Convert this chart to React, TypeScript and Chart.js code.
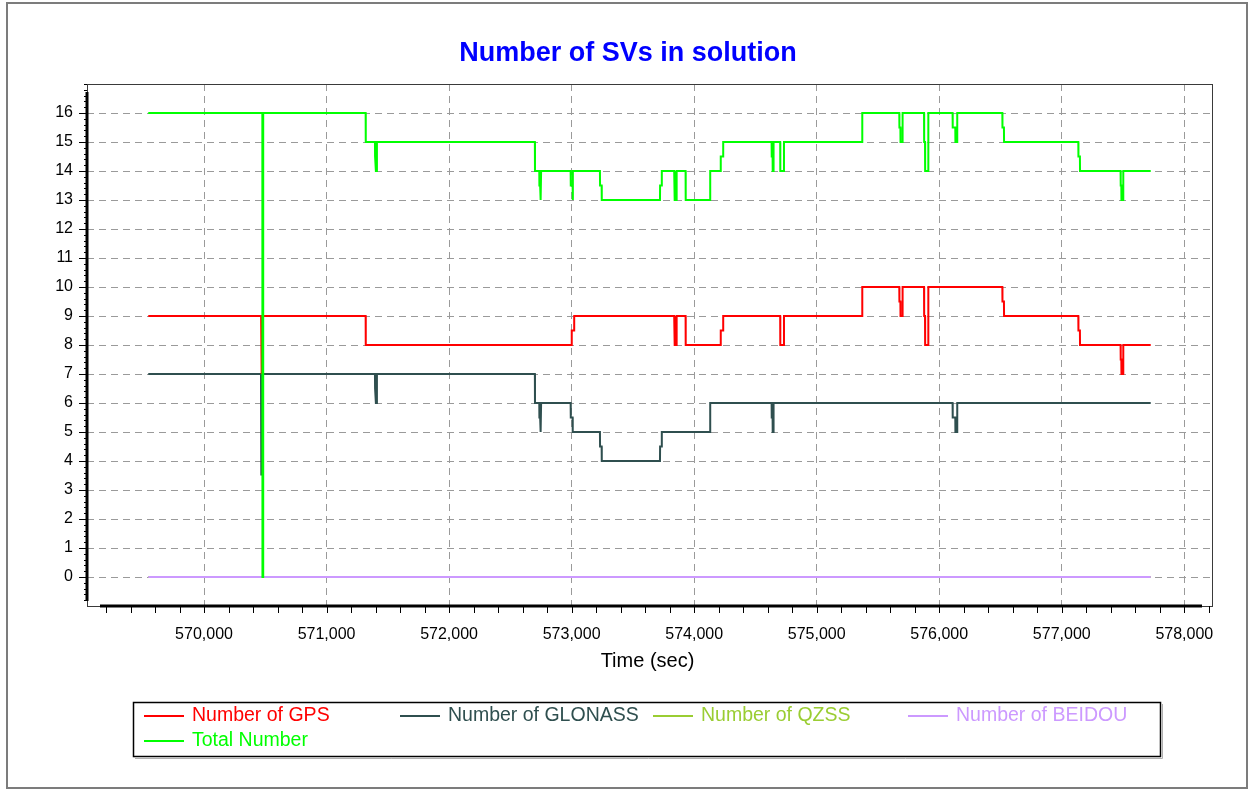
import React, { useEffect, useRef } from 'react';
import { Chart, registerables } from 'chart.js';

Chart.register(...registerables);

const W = 1249;
const H = 790;

// ---------- data ----------
const titleText = 'Number of SVs in solution';
const xAxisTitle = 'Time (sec)';

const X_MIN = 569045;
const X_MAX = 578226;
const Y_MIN = -1;
const Y_MAX = 17;

const xTickValues = [570000, 571000, 572000, 573000, 574000, 575000, 576000, 577000, 578000];
const xTickLabels = ['570,000', '571,000', '572,000', '573,000', '574,000', '575,000', '576,000', '577,000', '578,000'];
const X_MINOR_START = 569200;
const X_MINOR_END = 578200;
const X_MINOR_STEP = 200;

const yTickValues = [0, 1, 2, 3, 4, 5, 6, 7, 8, 9, 10, 11, 12, 13, 14, 15, 16];
const yTickLabels = ['0', '1', '2', '3', '4', '5', '6', '7', '8', '9', '10', '11', '12', '13', '14', '15', '16'];
const Y_MINOR_STEP = 0.2;

const seriesNames = ['Number of GPS', 'Number of GLONASS', 'Number of QZSS', 'Number of BEIDOU', 'Total Number'];
const seriesColors = ['#FF0000', '#2F4F4F', '#9ACD32', '#CC99FF', '#00FF00'];

const gpsPoints: [number, number][] = [
  [569545, 9],
  [570466, 9], [570467, 8], [570470, 8], [570471, 7], [570473, 7], [570474, 9],
  [571319, 9], [571320, 8],
  [573000, 8], [573001, 8.5], [573020, 8.5], [573021, 9],
  [573837, 9], [573838, 8.5], [573842, 8.5], [573843, 8], [573856, 8], [573857, 9],
  [573930, 9], [573931, 8],
  [574216, 8], [574217, 8.5], [574236, 8.5], [574237, 9],
  [574702, 9], [574703, 8], [574732, 8], [574733, 9],
  [575371, 9], [575372, 10],
  [575674, 10], [575675, 9.5], [575683, 9.5], [575684, 9], [575700, 9], [575701, 10],
  [575876, 10], [575877, 9], [575884, 9], [575885, 8], [575910, 8], [575911, 10],
  [576515, 10], [576516, 9.5], [576528, 9.5], [576529, 9],
  [577135, 9], [577136, 8.5], [577148, 8.5], [577149, 8],
  [577480, 8], [577481, 7.5], [577486, 7.5], [577487, 7], [577501, 7], [577502, 8],
  [577726, 8],
];

const glonassPoints: [number, number][] = [
  [569545, 7],
  [570465, 7], [570466, 3.5], [570468, 3.5], [570469, 7],
  [571395, 7], [571396, 6.5], [571402, 6.5], [571403, 6], [571410, 6], [571411, 7],
  [572700, 7], [572701, 6],
  [572736, 6], [572737, 5.5], [572743, 5.5], [572744, 5], [572750, 5], [572751, 6],
  [572992, 6], [572993, 5.5], [573008, 5.5], [573009, 5],
  [573231, 5], [573232, 4.5], [573245, 4.5], [573246, 4],
  [573721, 4], [573722, 4.5], [573735, 4.5], [573736, 5],
  [574130, 5], [574131, 6],
  [574632, 6], [574633, 5.5], [574640, 5.5], [574641, 5], [574647, 5], [574648, 6],
  [576109, 6], [576110, 5.5], [576131, 5.5], [576132, 5], [576145, 5], [576147, 6],
  [577726, 6],
];

const qzssPoints: [number, number][] = [
  [569545, 0], [577726, 0],
];

const beidouPoints: [number, number][] = [
  [569545, 0], [577726, 0],
];

const totalPoints: [number, number][] = [
  [569545, 16],
  [570476, 16], [570477, 0], [570482, 0], [570483, 16],
  [571319, 16], [571320, 15],
  [571395, 15], [571396, 14.5], [571402, 14.5], [571403, 14], [571410, 14], [571411, 15],
  [572700, 15], [572701, 14],
  [572736, 14], [572737, 13.5], [572743, 13.5], [572744, 13], [572750, 13], [572751, 14],
  [572992, 14], [572993, 13.5], [573008, 13.5], [573009, 13], [573010, 13], [573011, 14],
  [573231, 14], [573232, 13.5], [573245, 13.5], [573246, 13],
  [573721, 13], [573722, 13.5], [573735, 13.5], [573736, 14],
  [573837, 14], [573838, 13.5], [573842, 13.5], [573843, 13], [573856, 13], [573857, 14],
  [573930, 14], [573931, 13],
  [574130, 13], [574131, 14],
  [574216, 14], [574217, 14.5], [574236, 14.5], [574237, 15],
  [574632, 15], [574633, 14.5], [574640, 14.5], [574641, 14], [574647, 14], [574648, 15],
  [574702, 15], [574703, 14], [574732, 14], [574733, 15],
  [575371, 15], [575372, 16],
  [575674, 16], [575675, 15.5], [575683, 15.5], [575684, 15], [575700, 15], [575701, 16],
  [575876, 16], [575877, 15], [575884, 15], [575885, 14], [575910, 14], [575911, 16],
  [576109, 16], [576110, 15.5], [576131, 15.5], [576132, 15], [576145, 15], [576147, 16],
  [576515, 16], [576516, 15.5], [576528, 15.5], [576529, 15],
  [577135, 15], [577136, 14.5], [577148, 14.5], [577149, 14],
  [577480, 14], [577481, 13.5], [577486, 13.5], [577487, 13], [577501, 13], [577502, 14],
  [577726, 14],
];

const allSeries = [gpsPoints, glonassPoints, qzssPoints, beidouPoints, totalPoints];
const drawOrder = [1, 2, 4, 3, 0];

const FONT = '"Liberation Sans", Arial, sans-serif';

const decorPlugin = {
  id: 'decor',
  beforeDraw(chart: any) {
    const ctx = chart.ctx as CanvasRenderingContext2D;
    ctx.save();
    ctx.fillStyle = '#ffffff';
    ctx.fillRect(0, 0, W, H);
    ctx.strokeStyle = '#7c7c7c';
    ctx.lineWidth = 2;
    ctx.strokeRect(7, 3, 1240, 785);
    ctx.restore();
  },
  afterDraw(chart: any) {
    const ctx = chart.ctx as CanvasRenderingContext2D;
    const a = chart.chartArea;
    const xs = chart.scales.x;
    const ys = chart.scales.y;
    ctx.save();

    // thin frame
    ctx.strokeStyle = '#3a3a3a';
    ctx.lineWidth = 1;
    ctx.strokeRect(Math.round(a.left) + 0.5, Math.round(a.top) + 0.5, Math.round(a.right - a.left), Math.round(a.bottom - a.top));

    // x ticks
    ctx.strokeStyle = '#000';
    ctx.lineWidth = 1;
    for (let v = X_MINOR_START; v <= X_MINOR_END; v += X_MINOR_STEP) {
      const px = Math.round(xs.getPixelForValue(v)) + 0.5;
      ctx.beginPath();
      ctx.moveTo(px, a.bottom);
      ctx.lineTo(px, a.bottom + 7);
      ctx.stroke();
    }
    // y major ticks
    for (const v of yTickValues) {
      const py = Math.round(ys.getPixelForValue(v)) + 0.5;
      ctx.beginPath();
      ctx.moveTo(a.left - 8, py);
      ctx.lineTo(a.left, py);
      ctx.stroke();
    }
    // y minor ticks
    for (let v = Y_MIN + Y_MINOR_STEP; v < Y_MAX; v += Y_MINOR_STEP) {
      const py = Math.round(ys.getPixelForValue(v)) + 0.5;
      ctx.beginPath();
      ctx.moveTo(a.left - 3, py);
      ctx.lineTo(a.left, py);
      ctx.stroke();
    }

    // thick axes
    ctx.strokeStyle = '#000';
    ctx.lineWidth = 3;
    ctx.beginPath();
    ctx.moveTo(a.left, a.top + 8);
    ctx.lineTo(a.left, a.bottom - 5);
    ctx.stroke();
    ctx.beginPath();
    ctx.moveTo(a.left + 13, a.bottom);
    ctx.lineTo(a.right - 10, a.bottom);
    ctx.stroke();

    // title
    ctx.fillStyle = '#0000FF';
    ctx.font = 'bold 27px ' + FONT;
    ctx.textAlign = 'center';
    ctx.textBaseline = 'middle';
    ctx.fillText(titleText, 628, 54);

    // axis title
    ctx.fillStyle = '#000';
    ctx.font = '20px ' + FONT;
    ctx.fillText(xAxisTitle, (a.left + a.right) / 2 - 2, 661);

    // legend box
    ctx.strokeStyle = '#b0b0b0';
    ctx.lineWidth = 1;
    ctx.beginPath();
    ctx.moveTo(135, 758.5);
    ctx.lineTo(1162.5, 758.5);
    ctx.lineTo(1162.5, 704);
    ctx.stroke();
    ctx.strokeStyle = '#000';
    ctx.lineWidth = 1.5;
    ctx.strokeRect(133.5, 702.5, 1027, 54);

    const colText = [192, 448, 701, 956];
    const rowY = [716, 741];
    ctx.font = '19.5px ' + FONT;
    ctx.textAlign = 'left';
    ctx.textBaseline = 'middle';
    seriesNames.forEach((name, i) => {
      const col = i % 4;
      const row = Math.floor(i / 4);
      const tx = colText[col];
      const ty = rowY[row];
      ctx.strokeStyle = seriesColors[i];
      ctx.lineWidth = 2;
      ctx.beginPath();
      ctx.moveTo(tx - 48, ty);
      ctx.lineTo(tx - 8, ty);
      ctx.stroke();
      ctx.fillStyle = seriesColors[i];
      ctx.fillText(name, tx, ty);
    });

    ctx.restore();
  },
};

export default function App() {
  const ref = useRef<HTMLCanvasElement | null>(null);

  useEffect(() => {
    document.body.style.margin = '0';
    if (!ref.current) return;
    Chart.defaults.font.family = FONT;
    const chart = new Chart(ref.current, {
      type: 'line',
      data: {
        datasets: allSeries.map((pts, i) => ({
          label: seriesNames[i],
          data: pts.map(([x, y]) => ({ x, y })),
          borderColor: seriesColors[i],
          backgroundColor: seriesColors[i],
          borderWidth: 2,
          pointRadius: 0,
          tension: 0,
          fill: false,
          order: drawOrder[i],
        })),
      },
      options: {
        animation: false,
        responsive: false,
        events: [],
        layout: { padding: { left: 20, top: 84, right: 37, bottom: 144 } },
        plugins: {
          legend: { display: false },
          title: { display: false },
          tooltip: { enabled: false },
        },
        scales: {
          x: {
            type: 'linear',
            min: X_MIN,
            max: X_MAX,
            afterBuildTicks: (s: any) => {
              s.ticks = xTickValues.map((v) => ({ value: v }));
            },
            afterFit: (s: any) => {
              s.height = 40;
            },
            ticks: {
              autoSkip: false,
              maxRotation: 0,
              minRotation: 0,
              padding: 19,
              color: '#000',
              font: { size: 16, family: FONT },
              callback: (_v: any, i: number) => xTickLabels[i],
            },
            grid: { color: '#9a9a9a', lineWidth: 1, drawTicks: false },
            border: { display: false, dash: [7, 5] },
          },
          y: {
            type: 'linear',
            min: Y_MIN,
            max: Y_MAX,
            afterBuildTicks: (s: any) => {
              s.ticks = yTickValues.map((v) => ({ value: v }));
            },
            afterFit: (s: any) => {
              s.width = 67;
            },
            ticks: {
              autoSkip: false,
              padding: 14,
              color: '#000',
              font: { size: 16, family: FONT },
              callback: (_v: any, i: number) => yTickLabels[i],
            },
            grid: { color: '#9a9a9a', lineWidth: 1, drawTicks: false },
            border: { display: false, dash: [7, 5] },
          },
        },
      },
      plugins: [decorPlugin],
    } as any);
    return () => chart.destroy();
  }, []);

  return (
    <div style={{ width: W, height: H, position: 'relative', background: '#fff' }}>
      <canvas ref={ref} width={W} height={H} style={{ display: 'block', width: W, height: H }} />
    </div>
  );
}
